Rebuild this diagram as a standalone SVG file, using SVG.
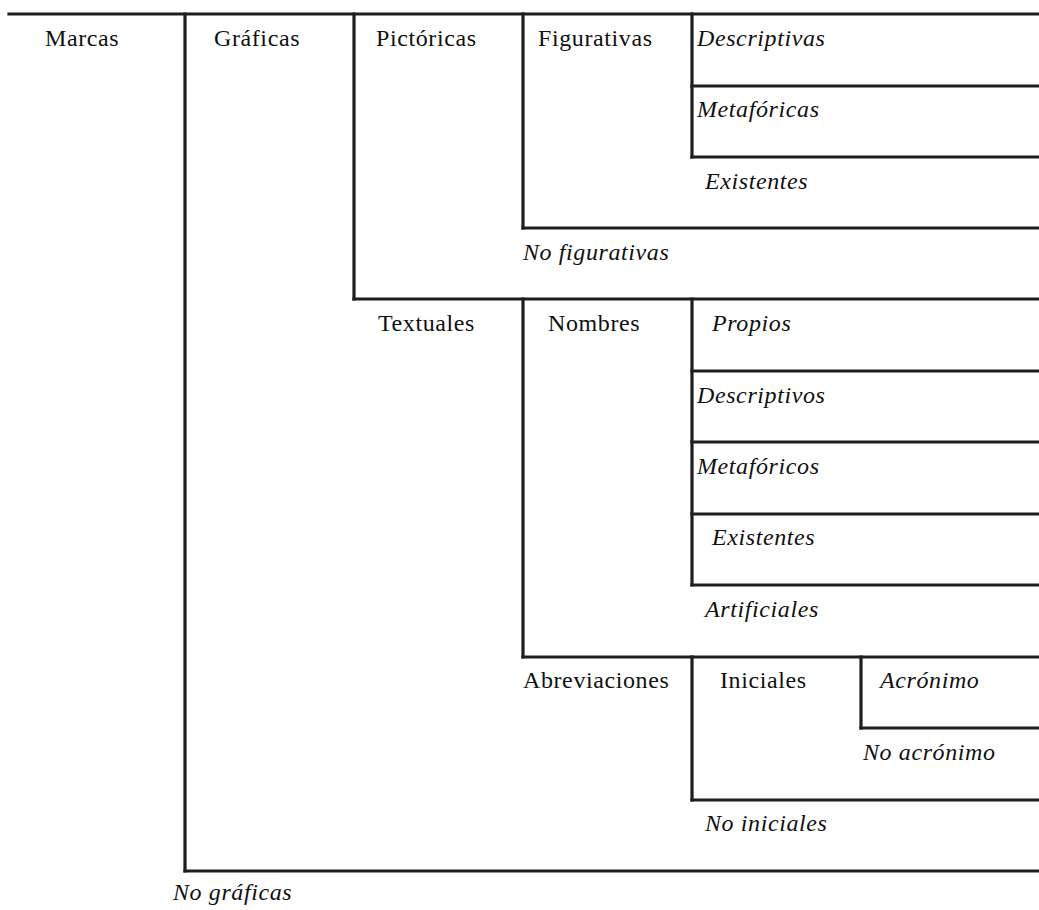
<svg xmlns="http://www.w3.org/2000/svg" width="1039" height="910" viewBox="0 0 1039 910">
<style>
.ln{stroke:#1e1e1e;stroke-width:3.2;fill:none;stroke-linecap:square}
text{font-family:"Liberation Serif","Times New Roman",serif;font-size:24px;fill:#111;letter-spacing:0.6px}
.it{font-style:italic}
</style>
<rect width="1039" height="910" fill="#fff"/>
<g id="connectors">
<line class="ln" x1="9" y1="14" x2="1039" y2="14"/>
<line class="ln" x1="185" y1="14" x2="185" y2="871"/>
<line class="ln" x1="185" y1="871" x2="1039" y2="871"/>
<line class="ln" x1="354" y1="14" x2="354" y2="299"/>
<line class="ln" x1="354" y1="299" x2="1039" y2="299"/>
<line class="ln" x1="523" y1="14" x2="523" y2="228"/>
<line class="ln" x1="523" y1="228" x2="1039" y2="228"/>
<line class="ln" x1="692" y1="14" x2="692" y2="157"/>
<line class="ln" x1="692" y1="86" x2="1039" y2="86"/>
<line class="ln" x1="692" y1="157" x2="1039" y2="157"/>
<line class="ln" x1="523" y1="299" x2="523" y2="657"/>
<line class="ln" x1="523" y1="657" x2="1039" y2="657"/>
<line class="ln" x1="692" y1="299" x2="692" y2="585"/>
<line class="ln" x1="692" y1="371" x2="1039" y2="371"/>
<line class="ln" x1="692" y1="442" x2="1039" y2="442"/>
<line class="ln" x1="692" y1="514" x2="1039" y2="514"/>
<line class="ln" x1="692" y1="585" x2="1039" y2="585"/>
<line class="ln" x1="692" y1="657" x2="692" y2="800"/>
<line class="ln" x1="692" y1="800" x2="1039" y2="800"/>
<line class="ln" x1="861" y1="657" x2="861" y2="728"/>
<line class="ln" x1="861" y1="728" x2="1039" y2="728"/>
</g>
<g id="marcas"><text x="45" y="46">Marcas</text></g>
<g id="graficas"><text x="214" y="46">Gráficas</text></g>
<g id="pictoricas"><text x="376" y="46">Pictóricas</text></g>
<g id="figurativas"><text x="538" y="46">Figurativas</text></g>
<g id="descriptivas"><text class="it" x="697" y="46">Descriptivas</text></g>
<g id="metaforicas"><text class="it" x="697" y="117">Metafóricas</text></g>
<g id="existentes1"><text class="it" x="705" y="189">Existentes</text></g>
<g id="no-figurativas"><text class="it" x="523" y="260">No figurativas</text></g>
<g id="textuales"><text x="378" y="331">Textuales</text></g>
<g id="nombres"><text x="548" y="331">Nombres</text></g>
<g id="propios"><text class="it" x="712" y="331">Propios</text></g>
<g id="descriptivos"><text class="it" x="697" y="403">Descriptivos</text></g>
<g id="metaforicos"><text class="it" x="697" y="474">Metafóricos</text></g>
<g id="existentes2"><text class="it" x="712" y="545">Existentes</text></g>
<g id="artificiales"><text class="it" x="705" y="617">Artificiales</text></g>
<g id="abreviaciones"><text x="523" y="688">Abreviaciones</text></g>
<g id="iniciales"><text x="720" y="688">Iniciales</text></g>
<g id="acronimo"><text class="it" x="880" y="688">Acrónimo</text></g>
<g id="no-acronimo"><text class="it" x="863" y="760">No acrónimo</text></g>
<g id="no-iniciales"><text class="it" x="705" y="831">No iniciales</text></g>
<g id="no-graficas"><text class="it" x="173" y="900">No gráficas</text></g>
</svg>
